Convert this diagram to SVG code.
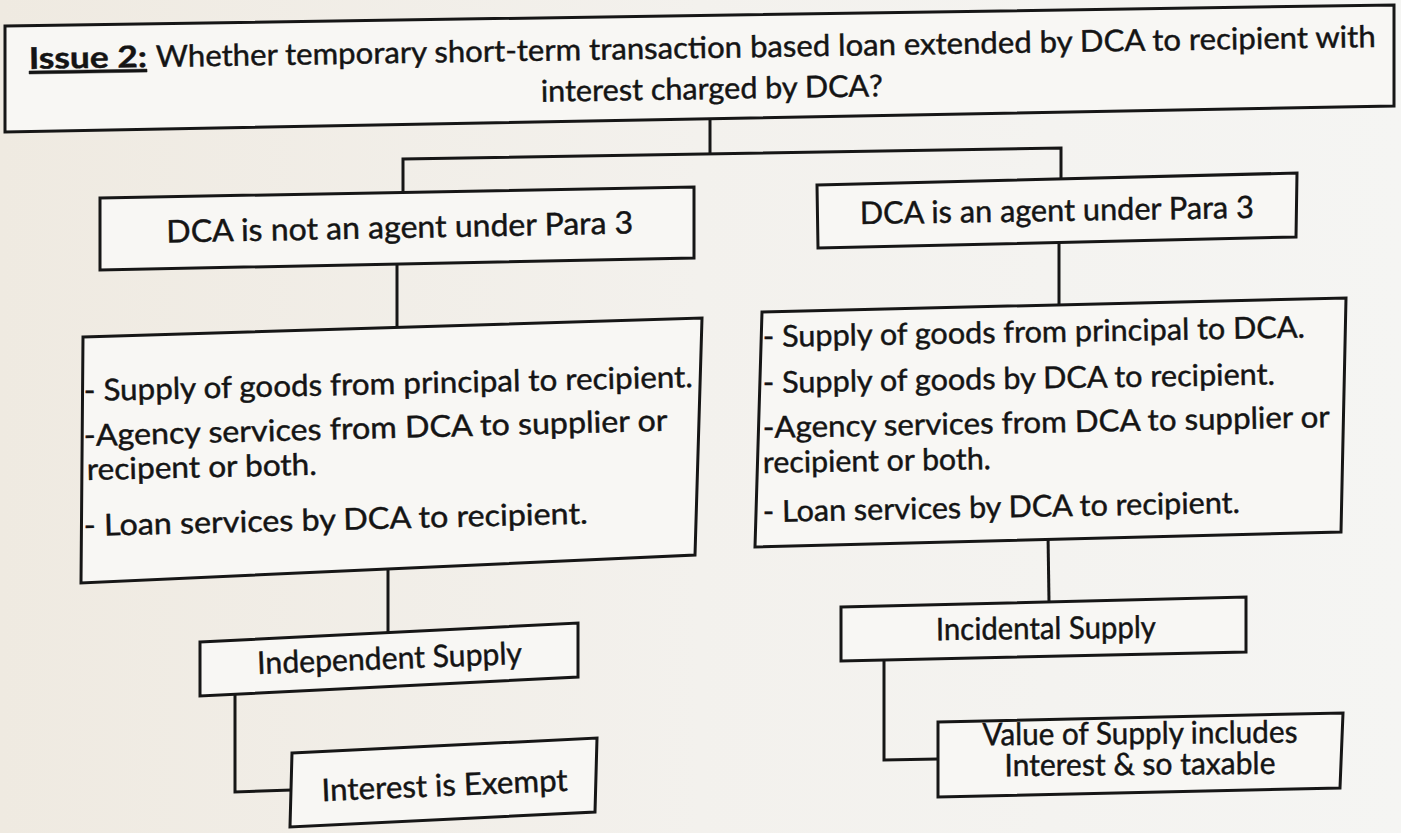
<svg xmlns="http://www.w3.org/2000/svg" width="1401" height="833" viewBox="0 0 1401 833">
<defs>
<linearGradient id="paper" x1="0" y1="0" x2="1" y2="0">
<stop offset="0" stop-color="#efeae1"/>
<stop offset="0.5" stop-color="#f3f1ed"/>
<stop offset="1" stop-color="#f5f5f3"/>
</linearGradient>
<style>
.box{fill:#f8f7f4;stroke:#161616;stroke-width:3;stroke-linejoin:miter}
.con{fill:none;stroke:#161616;stroke-width:3}
.t{font-family:Lato,"Liberation Sans",sans-serif;fill:#141414;stroke:#141414;stroke-width:0.45}
.c{text-anchor:middle}
.s30{font-size:30px}
.s31{font-size:31px}
</style>
</defs>
<rect width="1401" height="833" fill="url(#paper)"/>

<g id="connectors">
<polyline class="con" points="710,120 710,154"/>
<polyline class="con" points="403,194 403,159 1061,148 1061,180"/>
<polyline class="con" points="397,264 397,328"/>
<polyline class="con" points="1059,241 1059,305"/>
<polyline class="con" points="388,568 388,632"/>
<polyline class="con" points="1048,534 1049,602"/>
<polyline class="con" points="235,694 235,792 292,790"/>
<polyline class="con" points="884,659 884,760 938,759"/>
</g>

<g id="issue">
<polygon class="box" points="5,26 1394,5 1394,106 5,132"/>
<text class="t s30" x="29" y="69" textLength="118" lengthAdjust="spacingAndGlyphs" font-weight="bold" text-decoration="underline" transform="rotate(-0.94 29 69)">Issue 2:</text>
<text class="t s30" x="156" y="67" textLength="1220" lengthAdjust="spacingAndGlyphs" transform="rotate(-0.94 156 67)">Whether temporary short-term transaction based loan extended by DCA to recipient with</text>
<text class="t s30 c" x="712" y="99" textLength="342" lengthAdjust="spacingAndGlyphs" transform="rotate(-0.9 712 99)">interest charged by DCA?</text>
</g>

<g id="not-agent">
<polygon class="box" points="100,198 694,187 694,258 100,270"/>
<text class="t s31 c" x="400" y="238" textLength="467" lengthAdjust="spacingAndGlyphs" transform="rotate(-1.1 400 238)">DCA is not an agent under Para 3</text>
</g>

<g id="agent">
<polygon class="box" points="817,185 1297,173 1296,237 818,248"/>
<text class="t s31 c" x="1057" y="221" textLength="394" lengthAdjust="spacingAndGlyphs" transform="rotate(-0.9 1057 221)">DCA is an agent under Para 3</text>
</g>

<g id="left-supplies">
<polygon class="box" points="83,337 702,318 695,555 81,583"/>
<text class="t s30" x="84" y="401" textLength="609" lengthAdjust="spacingAndGlyphs" transform="rotate(-1.3 84 401)">- Supply of goods from principal to recipient.</text>
<text class="t s30" x="84" y="446" textLength="584" lengthAdjust="spacingAndGlyphs" transform="rotate(-1.5 84 446)">-Agency services from DCA to supplier or</text>
<text class="t s30" x="87" y="480" textLength="230" lengthAdjust="spacingAndGlyphs" transform="rotate(-1.3 87 480)">recipent or both.</text>
<text class="t s30" x="84" y="536" textLength="504" lengthAdjust="spacingAndGlyphs" transform="rotate(-1.4 84 536)">- Loan services by DCA to recipient.</text>
</g>

<g id="right-supplies">
<polygon class="box" points="762,312 1346,298 1341,532 755,547"/>
<text class="t s30" x="763" y="347" textLength="542" lengthAdjust="spacingAndGlyphs" transform="rotate(-1 763 347)">- Supply of goods from principal to DCA.</text>
<text class="t s30" x="763" y="393" textLength="512" lengthAdjust="spacingAndGlyphs" transform="rotate(-0.95 763 393)">- Supply of goods by DCA to recipient.</text>
<text class="t s30" x="763" y="438" textLength="567" lengthAdjust="spacingAndGlyphs" transform="rotate(-1.1 763 438)">-Agency services from DCA to supplier or</text>
<text class="t s30" x="763" y="473" textLength="228" lengthAdjust="spacingAndGlyphs" transform="rotate(-1 763 473)">recipient or both.</text>
<text class="t s30" x="763" y="522" textLength="477" lengthAdjust="spacingAndGlyphs" transform="rotate(-1.1 763 522)">- Loan services by DCA to recipient.</text>
</g>

<g id="independent">
<polygon class="box" points="200,642 578,623 578,677 200,696"/>
<text class="t s31 c" x="390" y="669" textLength="265" lengthAdjust="spacingAndGlyphs" transform="rotate(-2.2 390 669)">Independent Supply</text>
</g>

<g id="exempt">
<polygon class="box" points="292,753 597,738 595,812 290,827"/>
<text class="t s31 c" x="445" y="796" textLength="246" lengthAdjust="spacingAndGlyphs" transform="rotate(-2.4 445 796)">Interest is Exempt</text>
</g>

<g id="incidental">
<polygon class="box" points="841,607 1246,597 1246,652 841,661"/>
<text class="t s31 c" x="1046" y="639" textLength="220" lengthAdjust="spacingAndGlyphs" transform="rotate(-0.6 1046 639)">Incidental Supply</text>
</g>

<g id="taxable">
<polygon class="box" points="938,722 1343,713 1340,788 938,797"/>
<text class="t s31 c" x="1140" y="744" textLength="315" lengthAdjust="spacingAndGlyphs" transform="rotate(-0.5 1140 744)">Value of Supply includes</text>
<text class="t s31 c" x="1140" y="775" textLength="271" lengthAdjust="spacingAndGlyphs" transform="rotate(-0.5 1140 775)">Interest &amp; so taxable</text>
</g>
</svg>
